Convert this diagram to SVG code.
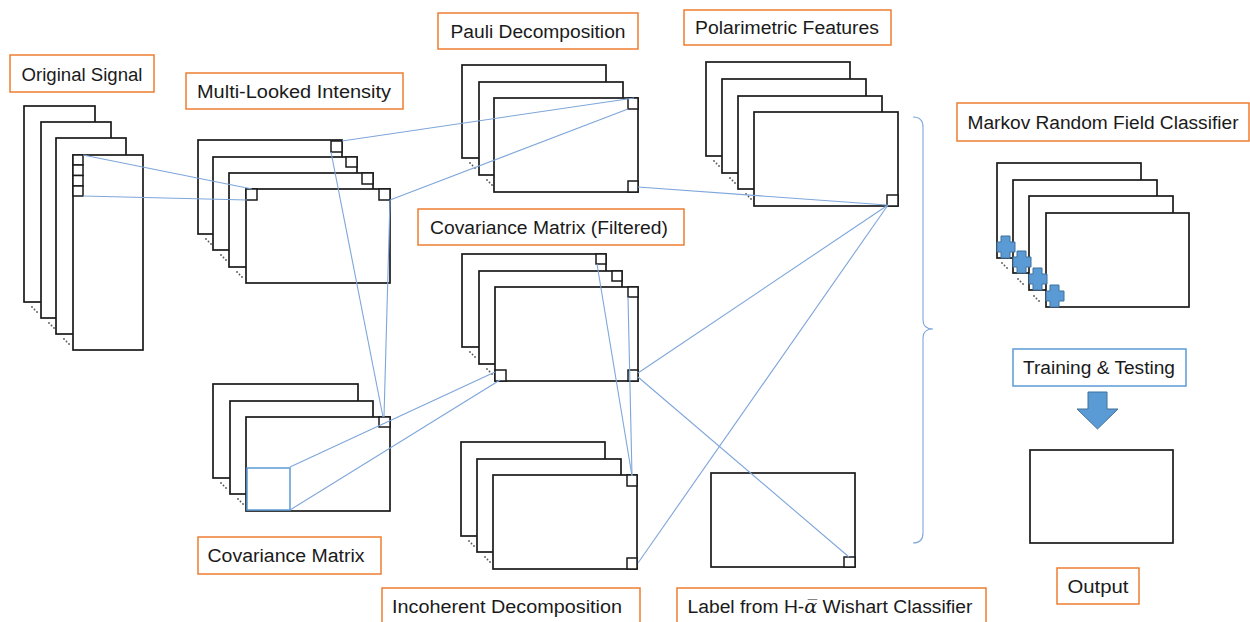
<svg xmlns="http://www.w3.org/2000/svg" xmlns:xlink="http://www.w3.org/1999/xlink" width="1250" height="622" viewBox="0 0 1250 622">
<style>
  .pl{fill:#fff;stroke:#1a1a1a;stroke-width:1.7}
  .sq{fill:#fff;stroke:#1a1a1a;stroke-width:1.5}
  .lb{fill:#fff;stroke:#ed7d31;stroke-width:1.5}
  .lbb{fill:#fff;stroke:#5b9bd5;stroke-width:1.5}
  .t{font-family:"Liberation Sans",Arial,sans-serif;font-size:18px;fill:#1a1a1a;text-anchor:middle}
  .cn{fill:none;stroke:#7ea6da;stroke-width:1.1}
  .dt{fill:#555}
  .cr{fill:#5b9bd5;stroke:#41719c;stroke-width:1}
</style>
<defs>
  <g id="dots"><circle class="dt" cx="0" cy="0" r="0.9"/><circle class="dt" cx="2.5" cy="2.5" r="0.9"/><circle class="dt" cx="5" cy="5" r="0.9"/></g>
  <path id="cross" class="cr" d="M4,-22 H13 V-16 H18 V-6 H13 V0 H4 V-6 H0 V-16 H4 Z"/>
</defs>

<g id="original-signal">
  <rect class="lb" x="10" y="55" width="144" height="37"/>
  <text class="t" x="82" y="81" textLength="121" lengthAdjust="spacingAndGlyphs">Original Signal</text>
  <rect class="pl" x="24" y="106" width="71" height="196"/>
  <rect class="pl" x="41" y="122" width="70" height="196"/>
  <rect class="pl" x="56" y="138" width="70" height="196"/>
  <rect class="pl" x="73" y="155" width="70" height="195"/>
  <rect class="sq" x="73" y="155" width="10" height="10"/>
  <rect class="sq" x="73" y="165" width="10" height="10.5"/>
  <rect class="sq" x="73" y="175.5" width="10" height="10.5"/>
  <rect class="sq" x="73" y="186" width="10" height="10"/>
  <use xlink:href="#dots" x="32" y="307"/>
  <use xlink:href="#dots" x="49" y="323"/>
  <use xlink:href="#dots" x="64" y="339"/>
</g>

<g id="multi-looked-intensity">
  <rect class="lb" x="186" y="73" width="217" height="36"/>
  <text class="t" x="294" y="98" textLength="194" lengthAdjust="spacingAndGlyphs">Multi-Looked Intensity</text>
  <rect class="pl" x="198" y="140" width="144" height="94"/>
  <rect class="pl" x="213" y="157" width="144" height="93"/>
  <rect class="pl" x="229" y="173" width="144" height="94"/>
  <rect class="pl" x="246" y="189" width="144" height="94"/>
  <rect class="sq" x="331" y="141" width="11" height="11"/>
  <rect class="sq" x="346" y="157" width="11" height="10"/>
  <rect class="sq" x="362" y="173" width="11" height="11"/>
  <rect class="sq" x="379" y="189" width="11" height="11"/>
  <rect class="sq" x="246" y="189" width="11" height="11"/>
  <use xlink:href="#dots" x="206" y="239"/>
  <use xlink:href="#dots" x="221" y="255"/>
  <use xlink:href="#dots" x="237" y="272"/>
</g>

<g id="pauli-decomposition">
  <rect class="lb" x="438" y="13" width="200" height="36"/>
  <text class="t" x="538" y="38" textLength="175" lengthAdjust="spacingAndGlyphs">Pauli Decomposition</text>
  <rect class="pl" x="462" y="65" width="144" height="93"/>
  <rect class="pl" x="479" y="82" width="144" height="93"/>
  <rect class="pl" x="494" y="98" width="144" height="94"/>
  <rect class="sq" x="628" y="98" width="10" height="11"/>
  <rect class="sq" x="628" y="181" width="10" height="11"/>
  <use xlink:href="#dots" x="470" y="163"/>
  <use xlink:href="#dots" x="487" y="180"/>
</g>

<g id="polarimetric-features">
  <rect class="lb" x="684" y="10" width="207" height="35"/>
  <text class="t" x="787" y="34" textLength="184" lengthAdjust="spacingAndGlyphs">Polarimetric Features</text>
  <rect class="pl" x="706" y="62" width="144" height="94"/>
  <rect class="pl" x="722" y="79" width="144" height="94"/>
  <rect class="pl" x="738" y="96" width="144" height="93"/>
  <rect class="pl" x="754" y="112" width="144" height="94"/>
  <rect class="sq" x="887" y="195" width="11" height="11"/>
  <use xlink:href="#dots" x="714" y="161"/>
  <use xlink:href="#dots" x="730" y="178"/>
  <use xlink:href="#dots" x="746" y="194"/>
</g>

<g id="covariance-matrix-filtered">
  <rect class="lb" x="418" y="209" width="266" height="36"/>
  <text class="t" x="549" y="234" textLength="238" lengthAdjust="spacingAndGlyphs">Covariance Matrix (Filtered)</text>
  <rect class="pl" x="462" y="254" width="144" height="93"/>
  <rect class="pl" x="479" y="271" width="143" height="93"/>
  <rect class="pl" x="495" y="287" width="143" height="94"/>
  <rect class="sq" x="596" y="254" width="10" height="10"/>
  <rect class="sq" x="612" y="271" width="10" height="10"/>
  <rect class="sq" x="628" y="287" width="10" height="10"/>
  <rect class="sq" x="495" y="370" width="11" height="11"/>
  <rect class="sq" x="628" y="370" width="10" height="11"/>
  <use xlink:href="#dots" x="470" y="352"/>
  <use xlink:href="#dots" x="487" y="369"/>
</g>

<g id="covariance-matrix">
  <rect class="lb" x="198" y="537" width="183" height="37"/>
  <text class="t" x="286" y="562" textLength="157" lengthAdjust="spacingAndGlyphs">Covariance Matrix</text>
  <rect class="pl" x="213" y="384" width="145" height="94"/>
  <rect class="pl" x="230" y="401" width="143" height="93"/>
  <rect class="pl" x="246" y="417" width="144" height="94"/>
  <rect class="sq" x="379" y="417" width="11" height="10"/>
  <rect x="247" y="468" width="43" height="42" fill="none" stroke="#5b9bd5" stroke-width="1.5"/>
  <use xlink:href="#dots" x="221" y="483"/>
  <use xlink:href="#dots" x="238" y="499"/>
</g>

<g id="incoherent-decomposition">
  <rect class="lb" x="382" y="588" width="258" height="40"/>
  <text class="t" x="507" y="613" textLength="230" lengthAdjust="spacingAndGlyphs">Incoherent Decomposition</text>
  <rect class="pl" x="461" y="442" width="144" height="94"/>
  <rect class="pl" x="477" y="459" width="144" height="93"/>
  <rect class="pl" x="493" y="475" width="144" height="94"/>
  <rect class="sq" x="627" y="475" width="10" height="11"/>
  <rect class="sq" x="627" y="558" width="10" height="11"/>
  <use xlink:href="#dots" x="469" y="541"/>
  <use xlink:href="#dots" x="485" y="557"/>
</g>

<g id="h-alpha-label">
  <rect class="lb" x="677" y="588" width="309" height="40"/>
  <text class="t" x="830" y="613" textLength="285" lengthAdjust="spacingAndGlyphs">Label from H-<tspan font-family="'DejaVu Serif',serif" font-style="italic">α̅</tspan> Wishart Classifier</text>
  <rect class="pl" x="711" y="473" width="144" height="94"/>
  <rect class="sq" x="844" y="557" width="11" height="10"/>
</g>

<g id="mrf-classifier">
  <rect class="lb" x="957" y="103" width="292" height="38"/>
  <text class="t" x="1103" y="129" textLength="271" lengthAdjust="spacingAndGlyphs">Markov Random Field Classifier</text>
  <rect class="pl" x="997" y="163" width="144" height="95"/>
  <rect class="pl" x="1013" y="180" width="144" height="93"/>
  <rect class="pl" x="1029" y="196" width="144" height="94"/>
  <rect class="pl" x="1046" y="213" width="143" height="94"/>
  <use xlink:href="#cross" x="997" y="258"/>
  <use xlink:href="#cross" x="1013" y="273"/>
  <use xlink:href="#cross" x="1029" y="290"/>
  <use xlink:href="#cross" x="1046" y="307"/>
  <use xlink:href="#dots" x="1002" y="263"/>
  <use xlink:href="#dots" x="1018" y="279"/>
  <use xlink:href="#dots" x="1034" y="296"/>
</g>

<g id="training-testing">
  <rect class="lbb" x="1013" y="349" width="173" height="37"/>
  <text class="t" x="1099" y="374" textLength="152" lengthAdjust="spacingAndGlyphs">Training &amp; Testing</text>
  <polygon class="cr" points="1088,392 1107,392 1107,409 1118,409 1097.5,429 1077,409 1088,409"/>
</g>

<g id="output">
  <rect class="pl" x="1030" y="450" width="143" height="93"/>
  <rect class="lb" x="1057" y="568" width="82" height="36"/>
  <text class="t" x="1098" y="593" textLength="61" lengthAdjust="spacingAndGlyphs">Output</text>
</g>

<g id="connectors">
  <line class="cn" x1="83" y1="155" x2="252" y2="189"/>
  <line class="cn" x1="83" y1="196" x2="247" y2="200"/>
  <line class="cn" x1="342" y1="141" x2="634" y2="98"/>
  <line class="cn" x1="390" y1="200" x2="628" y2="109"/>
  <line class="cn" x1="331" y1="152" x2="383" y2="417"/>
  <line class="cn" x1="390" y1="200" x2="384" y2="417"/>
  <line class="cn" x1="290" y1="467" x2="495" y2="372"/>
  <line class="cn" x1="290" y1="510" x2="500" y2="380"/>
  <line class="cn" x1="638" y1="187" x2="887" y2="205"/>
  <line class="cn" x1="597" y1="264" x2="632" y2="476"/>
  <line class="cn" x1="628" y1="297" x2="632" y2="476"/>
  <line class="cn" x1="638" y1="373" x2="888" y2="205"/>
  <line class="cn" x1="638" y1="377" x2="849" y2="557"/>
  <line class="cn" x1="638" y1="563" x2="888" y2="205"/>
  <path class="cn" d="M913,117 Q923,117 923,127 L923,320 Q923,329 933,329 Q923,329 923,338 L923,533 Q923,543 913,543"/>
</g>
</svg>
